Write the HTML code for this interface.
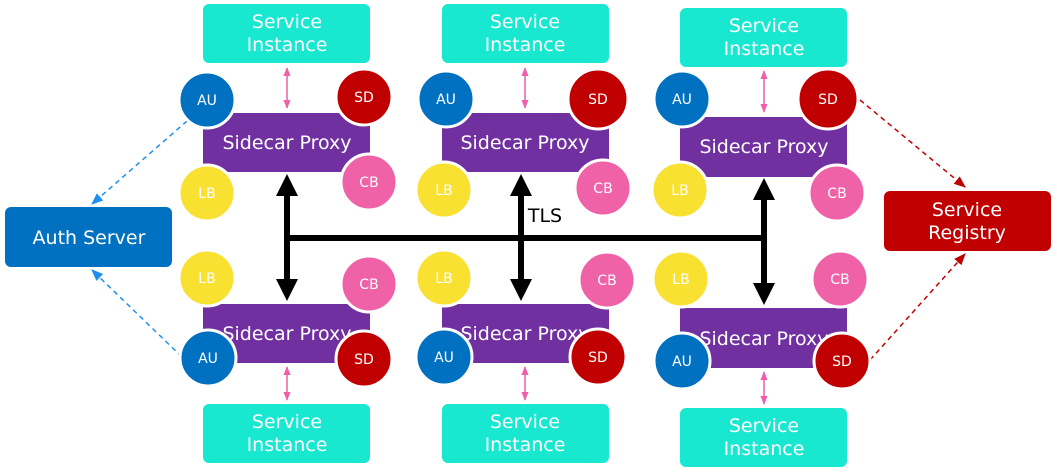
<!DOCTYPE html>
<html><head><meta charset="utf-8"><style>
html,body{margin:0;padding:0;background:#fff;}
svg{display:block;}
text{font-family:"DejaVu Sans","Liberation Sans",sans-serif;fill:#fff;text-anchor:middle;}
</style></head><body>
<svg width="1057" height="473" viewBox="0 0 1057 473" xmlns="http://www.w3.org/2000/svg">
<defs>
<marker id="pk" viewBox="0 0 10 10" refX="9" refY="5" markerWidth="6" markerHeight="6" orient="auto-start-reverse"><path d="M0,1 L10,5 L0,9 z" fill="#ee5fa8"/></marker>
<marker id="bl" viewBox="0 0 10 10" refX="9" refY="5" markerWidth="8" markerHeight="8" orient="auto"><path d="M0,1 L10,5 L0,9 z" fill="#1e8fef"/></marker>
<marker id="rd" viewBox="0 0 10 10" refX="9" refY="5" markerWidth="8" markerHeight="8" orient="auto"><path d="M0,1 L10,5 L0,9 z" fill="#c00000"/></marker>
</defs>

<g stroke-width="1.5" stroke-dasharray="5,4" fill="none">
<line x1="187" y1="121" x2="92" y2="204" stroke="#1e8fef" marker-end="url(#bl)"/>
<line x1="182" y1="357" x2="92" y2="270" stroke="#1e8fef" marker-end="url(#bl)"/>
<line x1="860" y1="100" x2="965" y2="187" stroke="#c00000" marker-end="url(#rd)"/>
<line x1="870" y1="360" x2="965" y2="254" stroke="#c00000" marker-end="url(#rd)"/>
</g>

<rect x="5" y="207" width="167" height="60" rx="6" fill="#0070c0"/>
<text x="89" y="244" font-size="19">Auth Server</text>
<rect x="884" y="191" width="167" height="60" rx="6" fill="#c00000"/>
<text x="967" y="216" font-size="19">Service</text>
<text x="967" y="239" font-size="19">Registry</text>

<g fill="#19e8d0">
<rect x="203" y="4" width="167" height="59" rx="6"/>
<rect x="442" y="4" width="167" height="59" rx="6"/>
<rect x="680" y="8" width="167" height="59" rx="6"/>
<rect x="203" y="404" width="167" height="59" rx="6"/>
<rect x="442" y="404" width="167" height="59" rx="6"/>
<rect x="680" y="408" width="167" height="59" rx="6"/>
</g>
<g font-size="19">
<text x="287" y="28">Service</text><text x="287" y="51">Instance</text>
<text x="525" y="28">Service</text><text x="525" y="51">Instance</text>
<text x="764" y="32">Service</text><text x="764" y="55">Instance</text>
<text x="287" y="428">Service</text><text x="287" y="451">Instance</text>
<text x="525" y="428">Service</text><text x="525" y="451">Instance</text>
<text x="764" y="432">Service</text><text x="764" y="455">Instance</text>
</g>

<g stroke="#ee5fa8" stroke-width="1.5">
<line x1="287" y1="68" x2="287" y2="108" marker-start="url(#pk)" marker-end="url(#pk)"/>
<line x1="525" y1="68" x2="525" y2="108" marker-start="url(#pk)" marker-end="url(#pk)"/>
<line x1="764" y1="71" x2="764" y2="112" marker-start="url(#pk)" marker-end="url(#pk)"/>
<line x1="287" y1="367" x2="287" y2="400" marker-start="url(#pk)" marker-end="url(#pk)"/>
<line x1="525" y1="367" x2="525" y2="400" marker-start="url(#pk)" marker-end="url(#pk)"/>
<line x1="764" y1="372" x2="764" y2="404" marker-start="url(#pk)" marker-end="url(#pk)"/>
</g>

<g fill="#7030a0">
<rect x="203" y="113" width="167" height="59"/>
<rect x="442" y="113" width="167" height="59"/>
<rect x="680" y="117" width="167" height="60"/>
<rect x="203" y="304" width="167" height="59"/>
<rect x="442" y="304" width="167" height="59"/>
<rect x="680" y="308" width="167" height="60"/>
</g>
<g font-size="19">
<text x="287" y="149">Sidecar Proxy</text>
<text x="525" y="149">Sidecar Proxy</text>
<text x="764" y="153">Sidecar Proxy</text>
<text x="287" y="340">Sidecar Proxy</text>
<text x="525" y="340">Sidecar Proxy</text>
<text x="764" y="345">Sidecar Proxy</text>
</g>

<g stroke="#000" stroke-width="6" fill="none">
<line x1="287" y1="238" x2="764" y2="238"/>
<line x1="287" y1="194" x2="287" y2="280"/>
<line x1="521" y1="194" x2="521" y2="280"/>
<line x1="764" y1="199" x2="764" y2="285"/>
</g>
<g fill="#000">
<path d="M287,174 L276,196 L298,196 z"/><path d="M287,301 L276,279 L298,279 z"/>
<path d="M521,174 L510,196 L532,196 z"/><path d="M521,301 L510,279 L532,279 z"/>
<path d="M764,178 L753,200 L775,200 z"/><path d="M764,305 L753,283 L775,283 z"/>
</g>
<text x="545" y="222" font-size="19" style="fill:#000">TLS</text>

<g stroke="#fff" stroke-width="3">
<circle cx="207" cy="100" r="28" fill="#0070c0"/>
<circle cx="364" cy="97" r="28" fill="#c00000"/>
<circle cx="207" cy="193" r="28" fill="#f9e132"/>
<circle cx="369" cy="182" r="28" fill="#f062a8"/>
<circle cx="207" cy="278" r="28" fill="#f9e132"/>
<circle cx="369" cy="284" r="28" fill="#f062a8"/>
<circle cx="208" cy="358" r="28" fill="#0070c0"/>
<circle cx="364" cy="359" r="28" fill="#c00000"/>

<circle cx="446" cy="99" r="28" fill="#0070c0"/>
<circle cx="598" cy="99" r="30" fill="#c00000"/>
<circle cx="444" cy="190" r="28" fill="#f9e132"/>
<circle cx="603" cy="188" r="28" fill="#f062a8"/>
<circle cx="444" cy="278" r="28" fill="#f9e132"/>
<circle cx="607" cy="280" r="28" fill="#f062a8"/>
<circle cx="444" cy="357" r="28" fill="#0070c0"/>
<circle cx="598" cy="357" r="28" fill="#c00000"/>

<circle cx="682" cy="99" r="28" fill="#0070c0"/>
<circle cx="828" cy="99" r="30" fill="#c00000"/>
<circle cx="680" cy="190" r="28" fill="#f9e132"/>
<circle cx="837" cy="193" r="28" fill="#f062a8"/>
<circle cx="681" cy="279" r="28" fill="#f9e132"/>
<circle cx="840" cy="279" r="28" fill="#f062a8"/>
<circle cx="682" cy="361" r="28" fill="#0070c0"/>
<circle cx="842" cy="361" r="28" fill="#c00000"/>
</g>
<g font-size="14">
<text x="207" y="105">AU</text><text x="364" y="102">SD</text>
<text x="207" y="198">LB</text><text x="369" y="187">CB</text>
<text x="207" y="283">LB</text><text x="369" y="289">CB</text>
<text x="208" y="363">AU</text><text x="364" y="364">SD</text>

<text x="446" y="104">AU</text><text x="598" y="104">SD</text>
<text x="444" y="195">LB</text><text x="603" y="193">CB</text>
<text x="444" y="283">LB</text><text x="607" y="285">CB</text>
<text x="444" y="362">AU</text><text x="598" y="362">SD</text>

<text x="682" y="104">AU</text><text x="828" y="104">SD</text>
<text x="680" y="195">LB</text><text x="837" y="198">CB</text>
<text x="681" y="284">LB</text><text x="840" y="284">CB</text>
<text x="682" y="366">AU</text><text x="842" y="366">SD</text>
</g>
</svg>
</body></html>
